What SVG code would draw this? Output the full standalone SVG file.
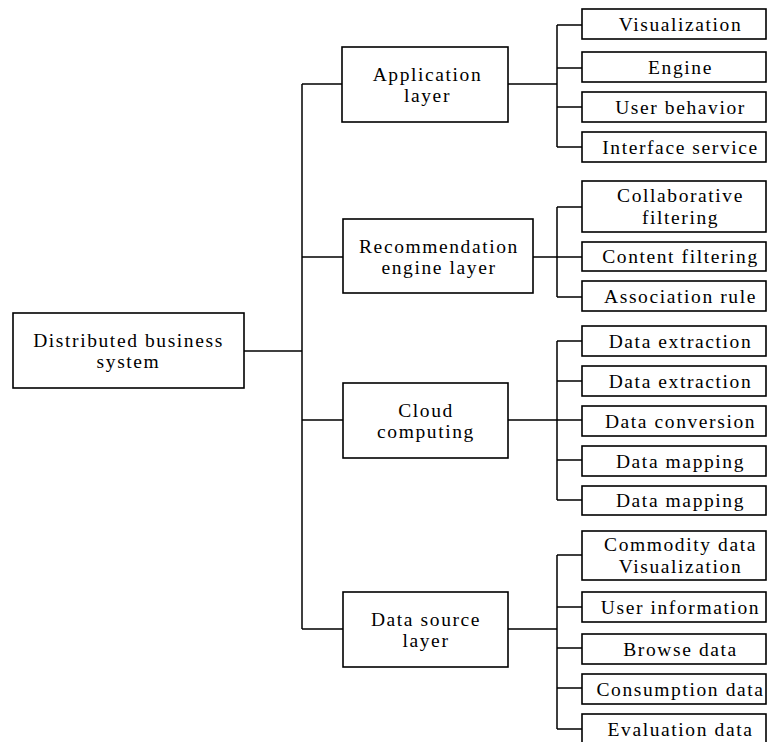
<svg xmlns="http://www.w3.org/2000/svg" width="768" height="742" viewBox="0 0 768 742">
  <style>
    .box { fill: #ffffff; stroke: #000000; stroke-width: 1.6; }
    .wire { fill: none; stroke: #000000; stroke-width: 1.5; }
    text { font-family: "Liberation Serif", "Times New Roman", serif; font-size: 19.5px; letter-spacing: 1.6px; fill: #000000; text-anchor: middle; }
  </style>
  <rect width="768" height="742" fill="#ffffff"/>

  <!-- connectors: trunk from the root, then one bus per layer -->
  <g id="connectors" class="wire">
    <path d="M244 351 H302"/>
    <path d="M302 84 V629"/>
    <path d="M302 84 H342 M302 257 H343 M302 420 H343 M302 629 H343"/>
    <!-- application layer bus -->
    <path d="M508 84 H557 M557 25 V147 M557 25 H582 M557 68 H582 M557 107 H582 M557 147 H582"/>
    <!-- recommendation engine bus -->
    <path d="M533 257 H557 M557 207 V297 M557 207 H582 M557 257 H582 M557 297 H582"/>
    <!-- cloud computing bus -->
    <path d="M508 420 H557 M557 341 V500 M557 341 H582 M557 381 H582 M557 420 H582 M557 460 H582 M557 500 H582"/>
    <!-- data source bus -->
    <path d="M508 629 H557 M557 555 V729 M557 555 H582 M557 607 H582 M557 648 H582 M557 688 H582 M557 729 H582"/>
  </g>

  <!-- root -->
  <g id="root">
    <rect class="box" x="13" y="313" width="231" height="75"/>
    <text x="128.5" y="347">Distributed business</text>
    <text x="128.5" y="368">system</text>
  </g>

  <!-- layers -->
  <g id="application-layer">
    <rect class="box" x="342" y="47" width="166" height="75"/>
    <text x="427.5" y="81">Application</text>
    <text x="427.5" y="102">layer</text>
  </g>
  <g id="recommendation-layer">
    <rect class="box" x="343" y="219" width="190" height="74"/>
    <text x="439" y="253">Recommendation</text>
    <text x="439" y="274">engine layer</text>
  </g>
  <g id="cloud-computing">
    <rect class="box" x="343" y="383" width="165" height="75"/>
    <text x="426" y="417">Cloud</text>
    <text x="426" y="438">computing</text>
  </g>
  <g id="data-source-layer">
    <rect class="box" x="343" y="592" width="165" height="75"/>
    <text x="426" y="626">Data source</text>
    <text x="426" y="647">layer</text>
  </g>

  <!-- application leaves -->
  <g id="visualization">
    <rect class="box" x="582" y="9" width="184" height="30"/>
    <text x="680.5" y="31">Visualization</text>
  </g>
  <g id="engine">
    <rect class="box" x="582" y="52" width="184" height="30"/>
    <text x="680.5" y="74">Engine</text>
  </g>
  <g id="user-behavior">
    <rect class="box" x="582" y="92" width="184" height="30"/>
    <text x="680.5" y="114">User behavior</text>
  </g>
  <g id="interface-service">
    <rect class="box" x="582" y="132" width="184" height="30"/>
    <text x="680.5" y="154">Interface service</text>
  </g>

  <!-- recommendation leaves -->
  <g id="collaborative-filtering">
    <rect class="box" x="582" y="181" width="184" height="51"/>
    <text x="680.5" y="202">Collaborative</text>
    <text x="680.5" y="224">filtering</text>
  </g>
  <g id="content-filtering">
    <rect class="box" x="582" y="242" width="184" height="29"/>
    <text x="680.5" y="263">Content filtering</text>
  </g>
  <g id="association-rule">
    <rect class="box" x="582" y="281" width="184" height="30"/>
    <text x="680.5" y="303">Association rule</text>
  </g>

  <!-- cloud computing leaves -->
  <g id="data-extraction-1">
    <rect class="box" x="582" y="326" width="184" height="30"/>
    <text x="680.5" y="348">Data extraction</text>
  </g>
  <g id="data-extraction-2">
    <rect class="box" x="582" y="366" width="184" height="30"/>
    <text x="680.5" y="388">Data extraction</text>
  </g>
  <g id="data-conversion">
    <rect class="box" x="582" y="406" width="184" height="30"/>
    <text x="680.5" y="428">Data conversion</text>
  </g>
  <g id="data-mapping-1">
    <rect class="box" x="582" y="446" width="184" height="30"/>
    <text x="680.5" y="468">Data mapping</text>
  </g>
  <g id="data-mapping-2">
    <rect class="box" x="582" y="486" width="184" height="29"/>
    <text x="680.5" y="507">Data mapping</text>
  </g>

  <!-- data source leaves -->
  <g id="commodity-data">
    <rect class="box" x="582" y="531" width="184" height="49"/>
    <text x="680.5" y="551">Commodity data</text>
    <text x="680.5" y="573">Visualization</text>
  </g>
  <g id="user-information">
    <rect class="box" x="582" y="592" width="184" height="30"/>
    <text x="680.5" y="614">User information</text>
  </g>
  <g id="browse-data">
    <rect class="box" x="582" y="634" width="184" height="30"/>
    <text x="680.5" y="656">Browse data</text>
  </g>
  <g id="consumption-data">
    <rect class="box" x="582" y="674" width="184" height="30"/>
    <text x="680.5" y="696">Consumption data</text>
  </g>
  <g id="evaluation-data">
    <rect class="box" x="582" y="714" width="184" height="34"/>
    <text x="680.5" y="736">Evaluation data</text>
  </g>
</svg>
